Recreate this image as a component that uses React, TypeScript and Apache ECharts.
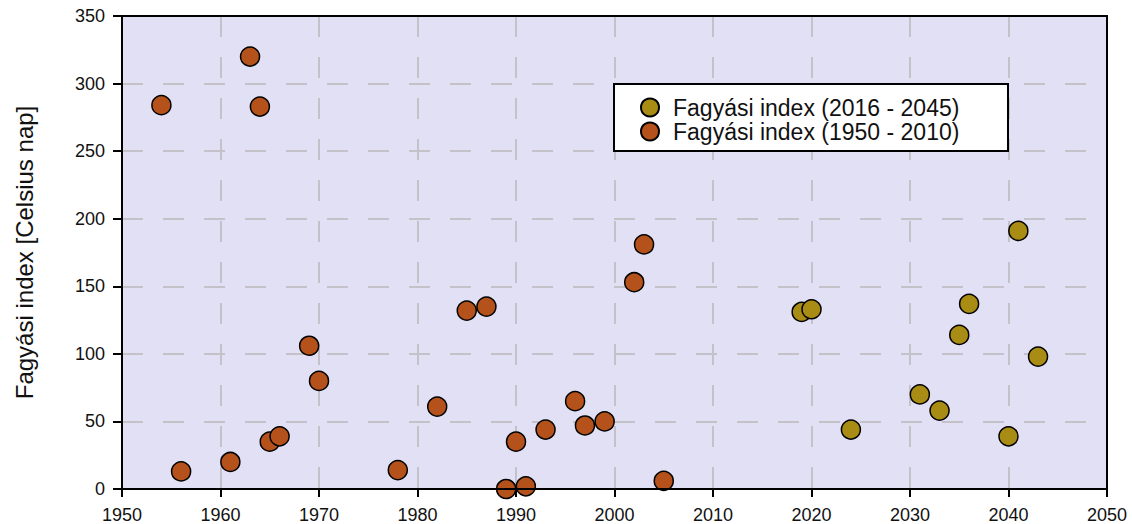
import React, { useEffect, useRef } from "react";
import * as echarts from "echarts";

const pastYears = [1954, 1956, 1961, 1963, 1964, 1965, 1966, 1969, 1970, 1978, 1982, 1985, 1987, 1989, 1990, 1991, 1993, 1996, 1997, 1999, 2002, 2003, 2005];
const pastValues = [284, 13, 20, 320, 283, 35, 39, 106, 80, 14, 61, 132, 135, 0, 35, 2, 44, 65, 47, 50, 153, 181, 6];

const futureYears = [2019, 2020, 2024, 2031, 2033, 2035, 2036, 2040, 2041, 2043];
const futureValues = [131, 133, 44, 70, 58, 114, 137, 39, 191, 98];

const futureName = "Fagyási index (2016 - 2045)";
const pastName = "Fagyási index (1950 - 2010)";
const yAxisName = "Fagyási index [Celsius nap]";

const GL = 122, GT = 16, GR = 25, GB = 35;

export default function App() {
  const ref = useRef<HTMLDivElement>(null);
  useEffect(() => {
    if (!ref.current) return;
    const chart = echarts.init(ref.current, null, { renderer: "svg" });
    const font = "Liberation Sans, Arial, sans-serif";
    const W = 1132, H = 524;
    chart.setOption({
      animation: false,
      textStyle: { fontFamily: font },
      grid: {
        left: GL,
        right: GR,
        top: GT,
        bottom: GB,
        show: true,
        backgroundColor: "#e2e0f4",
        borderWidth: 0,
      },
      xAxis: {
        type: "value",
        min: 1950,
        max: 2050,
        interval: 10,
        axisLine: { show: true, lineStyle: { color: "#000", width: 2 } },
        axisTick: { show: true, length: 8, lineStyle: { color: "#000", width: 2 } },
        axisLabel: { color: "#111", fontSize: 18, fontFamily: font, margin: 17, formatter: (v: number) => String(v) },
        splitLine: { show: true, lineStyle: { color: "#c4c2c8", width: 2, type: [21, 20] } },
      },
      yAxis: {
        type: "value",
        min: 0,
        max: 350,
        interval: 50,
        name: yAxisName,
        nameLocation: "middle",
        nameGap: 86,
        nameTextStyle: { fontSize: 24, color: "#111", fontFamily: font },
        axisLine: { show: true, lineStyle: { color: "#000", width: 2 } },
        axisTick: { show: true, length: 9, lineStyle: { color: "#000", width: 2 } },
        axisLabel: { color: "#111", fontSize: 18, fontFamily: font, margin: 17 },
        splitLine: { show: true, lineStyle: { color: "#c4c2c8", width: 2, type: [21, 20] } },
      },
      legend: {
        orient: "vertical",
        left: 635,
        top: 91,
        itemWidth: 36,
        itemHeight: 18,
        itemGap: 1,
        icon: "circle",
        data: [futureName, pastName],
        textStyle: { fontSize: 23, lineHeight: 23, color: "#111", fontFamily: font },
        z: 10,
      },
      graphic: [
        {
          type: "rect",
          shape: { x: GL, y: GT, width: W - GL - GR, height: H - GT - GB },
          style: { fill: "none", stroke: "#000", lineWidth: 2 },
          z: 8,
          silent: true,
        },
        {
          type: "rect",
          shape: { x: 614, y: 84, width: 394, height: 67 },
          style: { fill: "#fff", stroke: "#000", lineWidth: 2 },
          z: 5,
        },
      ],
      series: [
        {
          name: pastName,
          type: "scatter",
          symbolSize: 19,
          data: pastYears.map((y, i) => [y, pastValues[i]]),
          itemStyle: { color: "#b5521b", borderColor: "#000", borderWidth: 1.5, opacity: 1 },
        },
        {
          name: futureName,
          type: "scatter",
          symbolSize: 19,
          data: futureYears.map((y, i) => [y, futureValues[i]]),
          itemStyle: { color: "#a98c14", borderColor: "#000", borderWidth: 1.5, opacity: 1 },
        },
      ],
    });
    return () => chart.dispose();
  }, []);
  return <div ref={ref} style={{ width: 1132, height: 524, position: "absolute", left: 0, top: 0 }} />;
}
